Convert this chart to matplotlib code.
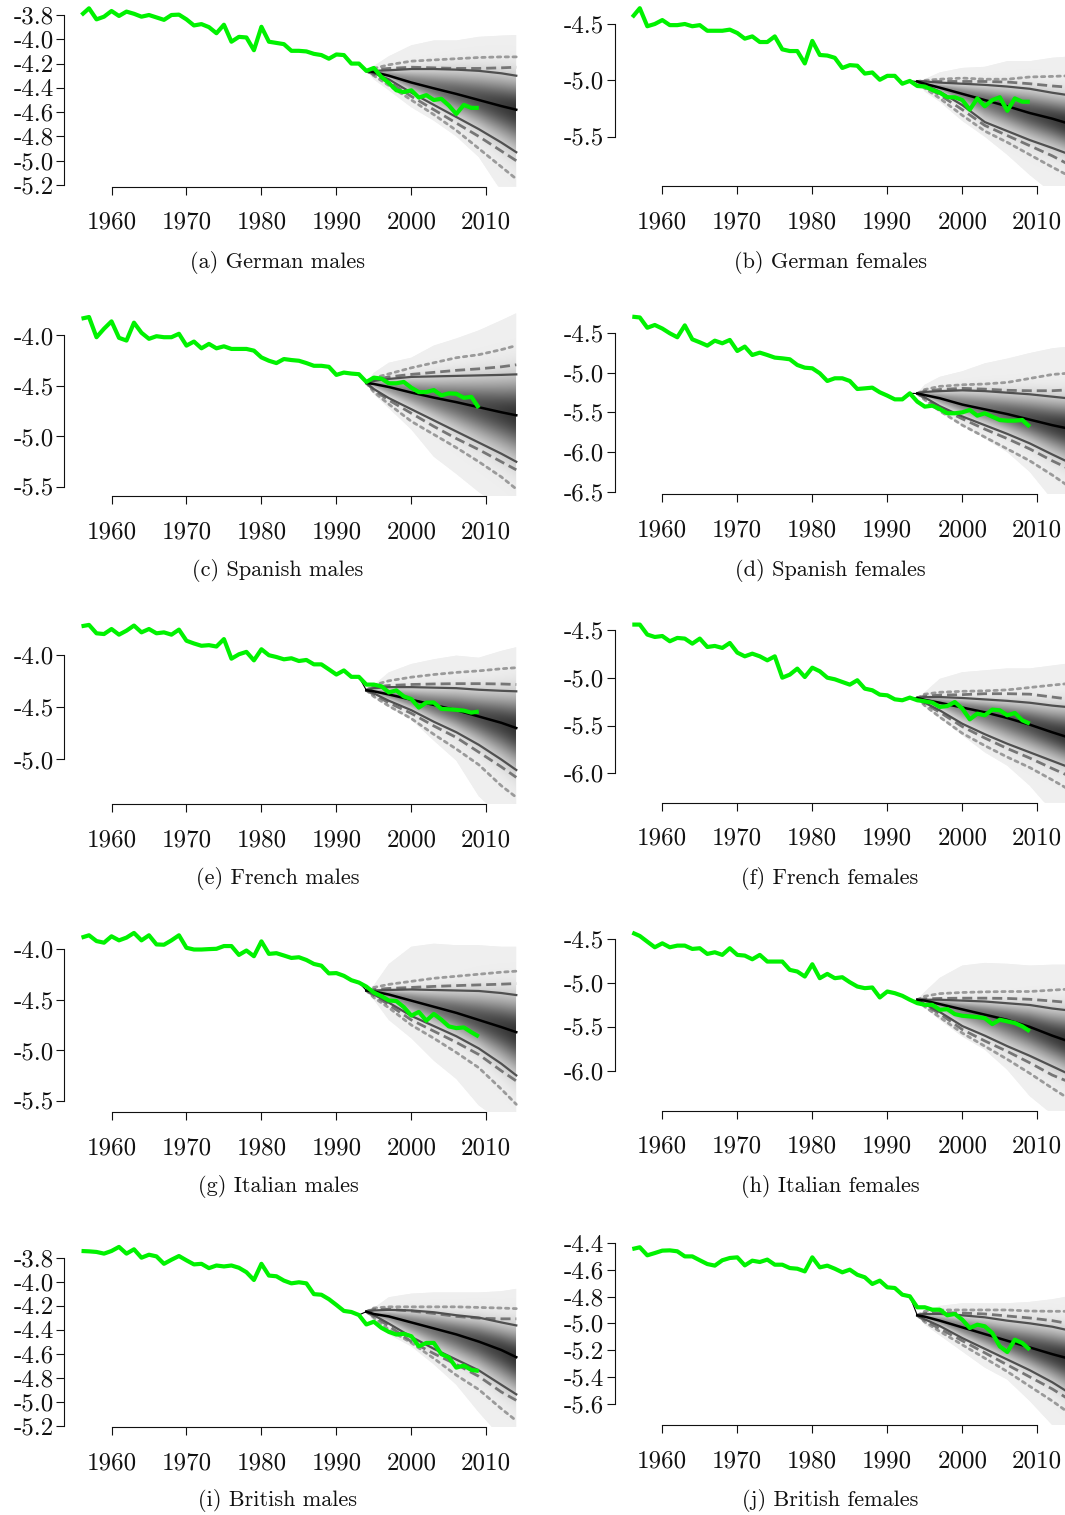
import numpy as np
import matplotlib
matplotlib.use("Agg")
import matplotlib.pyplot as plt
from matplotlib.patches import Polygon

plt.rcParams['font.family'] = ['cmr10', 'DejaVu Serif']
plt.rcParams['axes.unicode_minus'] = False

OBS_YEARS = list(range(1956, 2010))
FC_YEARS = [1994, 1995, 1997, 2000, 2003, 2006, 2009, 2012, 2014]

# ---------------- (a) German males ----------------
de_m_obs = [-3.80, -3.745, -3.836, -3.814, -3.767, -3.808, -3.772, -3.79, -3.814, -3.80,
            -3.82, -3.84, -3.80, -3.797, -3.836, -3.886, -3.875, -3.90, -3.95, -3.88,
            -4.02, -3.98, -3.985, -4.09, -3.897, -4.02, -4.03, -4.04, -4.095, -4.095,
            -4.10, -4.12, -4.13, -4.16, -4.125, -4.13, -4.20, -4.20, -4.26, -4.236,
            -4.31, -4.36, -4.42, -4.435, -4.42, -4.48, -4.46, -4.50, -4.49, -4.545,
            -4.615, -4.54, -4.565, -4.565]
de_m_med = [-4.26, -4.27, -4.30, -4.356, -4.404, -4.45, -4.50, -4.55, -4.58]
de_m_hi1 = [-4.26, -4.26, -4.255, -4.245, -4.245, -4.25, -4.26, -4.28, -4.30]
de_m_lo1 = [-4.26, -4.28, -4.33, -4.44, -4.54, -4.64, -4.74, -4.85, -4.93]
de_m_hi2 = [-4.26, -4.25, -4.24, -4.23, -4.235, -4.24, -4.24, -4.235, -4.23]
de_m_lo2 = [-4.26, -4.29, -4.35, -4.47, -4.58, -4.69, -4.80, -4.92, -5.00]
de_m_hi3 = [-4.26, -4.24, -4.21, -4.18, -4.17, -4.16, -4.15, -4.145, -4.145]
de_m_lo3 = [-4.26, -4.30, -4.38, -4.50, -4.62, -4.75, -4.90, -5.05, -5.15]
de_m_ehi = [-4.26, -4.22, -4.14, -4.05, -4.01, -4.01, -3.98, -3.97, -3.965]
de_m_elo = [-4.26, -4.33, -4.42, -4.56, -4.67, -4.80, -4.97, -5.25, -5.30]

# ---------------- (b) German females ----------------
de_f_obs = [-4.44, -4.36, -4.52, -4.50, -4.465, -4.51, -4.51, -4.50, -4.52, -4.51,
            -4.56, -4.56, -4.56, -4.55, -4.58, -4.63, -4.61, -4.66, -4.66, -4.61,
            -4.725, -4.74, -4.74, -4.85, -4.65, -4.775, -4.78, -4.80, -4.89, -4.865,
            -4.87, -4.94, -4.93, -4.995, -4.96, -4.96, -5.03, -5.005, -5.05, -5.055,
            -5.085, -5.11, -5.15, -5.15, -5.175, -5.26, -5.16, -5.23, -5.175, -5.15,
            -5.27, -5.16, -5.19, -5.19]
de_f_med = [-5.01, -5.03, -5.065, -5.12, -5.175, -5.23, -5.29, -5.34, -5.38]
de_f_hi1 = [-5.01, -5.01, -5.02, -5.03, -5.04, -5.055, -5.075, -5.11, -5.13]
de_f_lo1 = [-5.01, -5.04, -5.10, -5.22, -5.37, -5.45, -5.53, -5.60, -5.65]
de_f_hi2 = [-5.01, -5.01, -5.01, -5.01, -5.01, -5.015, -5.03, -5.05, -5.06]
de_f_lo2 = [-5.01, -5.05, -5.13, -5.26, -5.40, -5.49, -5.58, -5.67, -5.74]
de_f_hi3 = [-5.01, -5.00, -4.99, -4.98, -4.99, -4.99, -4.97, -4.965, -4.96]
de_f_lo3 = [-5.01, -5.07, -5.16, -5.31, -5.45, -5.55, -5.66, -5.77, -5.84]
de_f_ehi = [-5.01, -4.99, -4.93, -4.89, -4.88, -4.83, -4.83, -4.80, -4.79]
de_f_elo = [-5.01, -5.10, -5.19, -5.36, -5.50, -5.66, -5.84, -6.00, -6.00]

# ---------------- (c) Spanish males ----------------
es_m_obs = [-3.833, -3.817, -4.017, -3.933, -3.86, -4.023, -4.05, -3.873, -3.973, -4.033,
            -4.007, -4.017, -4.017, -3.983, -4.10, -4.06, -4.127, -4.083, -4.127, -4.107,
            -4.133, -4.133, -4.133, -4.15, -4.217, -4.25, -4.273, -4.233, -4.243, -4.25,
            -4.273, -4.30, -4.30, -4.31, -4.39, -4.367, -4.377, -4.383, -4.46, -4.417,
            -4.427, -4.473, -4.473, -4.46, -4.517, -4.56, -4.56, -4.54, -4.593, -4.573,
            -4.577, -4.617, -4.607, -4.717]
es_m_med = [-4.47, -4.48, -4.51, -4.565, -4.615, -4.66, -4.71, -4.76, -4.79]
es_m_hi1 = [-4.47, -4.45, -4.43, -4.41, -4.405, -4.40, -4.395, -4.39, -4.385]
es_m_lo1 = [-4.47, -4.53, -4.62, -4.73, -4.84, -4.95, -5.06, -5.17, -5.25]
es_m_hi2 = [-4.47, -4.44, -4.41, -4.385, -4.365, -4.345, -4.33, -4.31, -4.29]
es_m_lo2 = [-4.47, -4.54, -4.64, -4.77, -4.90, -5.02, -5.13, -5.25, -5.33]
es_m_hi3 = [-4.47, -4.42, -4.38, -4.32, -4.27, -4.22, -4.19, -4.14, -4.10]
es_m_lo3 = [-4.47, -4.56, -4.68, -4.85, -4.98, -5.11, -5.25, -5.40, -5.52]
es_m_ehi = [-4.47, -4.37, -4.27, -4.22, -4.10, -4.03, -3.95, -3.85, -3.78]
es_m_elo = [-4.47, -4.58, -4.72, -4.93, -5.20, -5.37, -5.55, -5.70, -5.75]

# ---------------- (d) Spanish females ----------------
es_f_obs = [-4.29, -4.30, -4.43, -4.395, -4.44, -4.50, -4.55, -4.40, -4.576, -4.614,
            -4.656, -4.593, -4.626, -4.584, -4.723, -4.668, -4.774, -4.744, -4.774, -4.807,
            -4.816, -4.828, -4.90, -4.934, -4.942, -5.005, -5.102, -5.068, -5.068, -5.102,
            -5.203, -5.195, -5.186, -5.245, -5.287, -5.334, -5.334, -5.258, -5.363, -5.426,
            -5.414, -5.456, -5.51, -5.51, -5.498, -5.468, -5.54, -5.51, -5.553, -5.595,
            -5.603, -5.603, -5.595, -5.68]
es_f_med = [-5.26, -5.28, -5.32, -5.40, -5.46, -5.52, -5.59, -5.66, -5.70]
es_f_hi1 = [-5.26, -5.24, -5.23, -5.22, -5.23, -5.25, -5.27, -5.30, -5.32]
es_f_lo1 = [-5.26, -5.31, -5.42, -5.55, -5.66, -5.77, -5.89, -6.03, -6.12]
es_f_hi2 = [-5.26, -5.23, -5.21, -5.195, -5.205, -5.22, -5.225, -5.225, -5.215]
es_f_lo2 = [-5.26, -5.32, -5.44, -5.58, -5.71, -5.83, -5.96, -6.11, -6.20]
es_f_hi3 = [-5.26, -5.21, -5.17, -5.15, -5.14, -5.12, -5.07, -5.02, -5.005]
es_f_lo3 = [-5.26, -5.34, -5.48, -5.66, -5.81, -5.96, -6.11, -6.29, -6.42]
es_f_ehi = [-5.26, -5.15, -5.05, -4.98, -4.88, -4.82, -4.75, -4.69, -4.67]
es_f_elo = [-5.26, -5.36, -5.50, -5.66, -5.83, -6.00, -6.25, -6.60, -6.70]

# ---------------- (e) French males ----------------
fr_m_obs = [-3.73, -3.717, -3.797, -3.804, -3.756, -3.81, -3.772, -3.723, -3.788, -3.756,
            -3.797, -3.788, -3.81, -3.762, -3.868, -3.894, -3.916, -3.91, -3.923, -3.852,
            -4.039, -3.997, -3.974, -4.055, -3.949, -4.006, -4.023, -4.045, -4.035, -4.061,
            -4.051, -4.093, -4.093, -4.141, -4.19, -4.151, -4.212, -4.212, -4.286, -4.286,
            -4.302, -4.36, -4.341, -4.399, -4.424, -4.505, -4.457, -4.457, -4.518, -4.521,
            -4.527, -4.534, -4.553, -4.543]
fr_m_med = [-4.34, -4.35, -4.38, -4.43, -4.48, -4.53, -4.59, -4.65, -4.70]
fr_m_hi1 = [-4.34, -4.32, -4.31, -4.31, -4.315, -4.32, -4.335, -4.345, -4.35]
fr_m_lo1 = [-4.34, -4.37, -4.44, -4.53, -4.64, -4.74, -4.86, -5.00, -5.10]
fr_m_hi2 = [-4.34, -4.31, -4.295, -4.285, -4.28, -4.277, -4.277, -4.28, -4.285]
fr_m_lo2 = [-4.34, -4.38, -4.46, -4.56, -4.68, -4.79, -4.93, -5.07, -5.17]
fr_m_hi3 = [-4.34, -4.29, -4.25, -4.215, -4.19, -4.17, -4.155, -4.135, -4.125]
fr_m_lo3 = [-4.34, -4.40, -4.49, -4.61, -4.76, -4.90, -5.05, -5.25, -5.36]
fr_m_ehi = [-4.34, -4.29, -4.17, -4.09, -4.045, -4.01, -4.03, -3.965, -3.93]
fr_m_elo = [-4.34, -4.40, -4.50, -4.62, -4.82, -5.01, -5.35, -5.55, -5.55]

# ---------------- (f) French females ----------------
fr_f_obs = [-4.44, -4.44, -4.545, -4.57, -4.56, -4.615, -4.58, -4.587, -4.64, -4.587,
            -4.675, -4.664, -4.685, -4.633, -4.734, -4.773, -4.745, -4.773, -4.815, -4.773,
            -4.997, -4.965, -4.902, -4.99, -4.892, -4.93, -4.997, -5.014, -5.042, -5.07,
            -5.024, -5.112, -5.129, -5.175, -5.182, -5.224, -5.234, -5.206, -5.234, -5.245,
            -5.259, -5.304, -5.294, -5.252, -5.322, -5.434, -5.374, -5.392, -5.332, -5.339,
            -5.392, -5.367, -5.444, -5.479]
fr_f_med = [-5.21, -5.23, -5.26, -5.31, -5.36, -5.42, -5.49, -5.57, -5.62]
fr_f_hi1 = [-5.21, -5.20, -5.20, -5.21, -5.225, -5.24, -5.26, -5.29, -5.305]
fr_f_lo1 = [-5.21, -5.26, -5.34, -5.48, -5.59, -5.69, -5.78, -5.87, -5.93]
fr_f_hi2 = [-5.21, -5.19, -5.18, -5.175, -5.165, -5.165, -5.17, -5.20, -5.22]
fr_f_lo2 = [-5.21, -5.27, -5.36, -5.51, -5.63, -5.74, -5.84, -5.95, -6.02]
fr_f_hi3 = [-5.21, -5.17, -5.15, -5.14, -5.135, -5.125, -5.10, -5.075, -5.06]
fr_f_lo3 = [-5.21, -5.29, -5.41, -5.58, -5.71, -5.83, -5.94, -6.07, -6.16]
fr_f_ehi = [-5.21, -5.15, -5.01, -4.94, -4.92, -4.90, -4.90, -4.87, -4.85]
fr_f_elo = [-5.21, -5.30, -5.42, -5.60, -5.78, -5.92, -6.13, -6.40, -6.40]

# ---------------- (g) Italian males ----------------
it_m_obs = [-3.89, -3.867, -3.924, -3.94, -3.877, -3.917, -3.89, -3.844, -3.917, -3.867,
            -3.957, -3.96, -3.917, -3.867, -3.99, -4.007, -4.007, -4.003, -4.00, -3.973,
            -3.973, -4.06, -4.017, -4.073, -3.927, -4.05, -4.043, -4.066, -4.09, -4.083,
            -4.11, -4.149, -4.166, -4.242, -4.239, -4.266, -4.309, -4.332, -4.372, -4.431,
            -4.465, -4.508, -4.514, -4.574, -4.657, -4.621, -4.707, -4.641, -4.697, -4.763,
            -4.78, -4.773, -4.82, -4.863]
it_m_med = [-4.41, -4.42, -4.45, -4.51, -4.57, -4.63, -4.70, -4.77, -4.82]
it_m_hi1 = [-4.41, -4.41, -4.405, -4.40, -4.405, -4.41, -4.415, -4.435, -4.455]
it_m_lo1 = [-4.41, -4.45, -4.53, -4.66, -4.76, -4.86, -4.98, -5.13, -5.245]
it_m_hi2 = [-4.41, -4.40, -4.39, -4.38, -4.37, -4.362, -4.355, -4.348, -4.342]
it_m_lo2 = [-4.41, -4.46, -4.55, -4.70, -4.81, -4.92, -5.04, -5.20, -5.30]
it_m_hi3 = [-4.41, -4.38, -4.35, -4.32, -4.29, -4.27, -4.25, -4.23, -4.22]
it_m_lo3 = [-4.41, -4.48, -4.58, -4.75, -4.88, -5.02, -5.17, -5.38, -5.53]
it_m_ehi = [-4.41, -4.36, -4.15, -3.98, -3.95, -3.965, -3.965, -3.98, -3.98]
it_m_elo = [-4.41, -4.50, -4.70, -4.88, -5.10, -5.28, -5.54, -5.70, -5.70]

# ---------------- (h) Italian females ----------------
it_f_obs = [-4.424, -4.462, -4.527, -4.591, -4.546, -4.591, -4.572, -4.572, -4.61, -4.602,
            -4.667, -4.648, -4.678, -4.602, -4.678, -4.686, -4.728, -4.678, -4.754, -4.754,
            -4.754, -4.849, -4.868, -4.925, -4.785, -4.944, -4.895, -4.944, -4.933, -4.99,
            -5.039, -5.058, -5.05, -5.164, -5.096, -5.115, -5.145, -5.19, -5.229, -5.248,
            -5.248, -5.305, -5.297, -5.354, -5.373, -5.38, -5.388, -5.40, -5.468, -5.418,
            -5.437, -5.456, -5.494, -5.55]
it_f_med = [-5.19, -5.20, -5.24, -5.30, -5.36, -5.42, -5.50, -5.60, -5.66]
it_f_hi1 = [-5.19, -5.19, -5.19, -5.20, -5.21, -5.23, -5.25, -5.29, -5.31]
it_f_lo1 = [-5.19, -5.24, -5.33, -5.49, -5.60, -5.72, -5.83, -5.95, -6.03]
it_f_hi2 = [-5.19, -5.18, -5.175, -5.172, -5.172, -5.175, -5.185, -5.205, -5.22]
it_f_lo2 = [-5.19, -5.25, -5.35, -5.53, -5.66, -5.78, -5.91, -6.05, -6.12]
it_f_hi3 = [-5.19, -5.15, -5.12, -5.107, -5.10, -5.096, -5.096, -5.08, -5.07]
it_f_lo3 = [-5.19, -5.27, -5.39, -5.57, -5.72, -5.87, -6.03, -6.20, -6.31]
it_f_ehi = [-5.19, -5.10, -4.94, -4.80, -4.77, -4.78, -4.80, -4.79, -4.79]
it_f_elo = [-5.19, -5.28, -5.42, -5.61, -5.76, -5.99, -6.29, -6.50, -6.55]

# ---------------- (i) British males ----------------
gb_m_obs = [-3.744, -3.747, -3.752, -3.766, -3.744, -3.71, -3.766, -3.73, -3.80, -3.775,
            -3.789, -3.851, -3.817, -3.786, -3.822, -3.856, -3.851, -3.887, -3.865, -3.873,
            -3.865, -3.884, -3.921, -3.986, -3.851, -3.949, -3.955, -3.991, -4.014, -4.005,
            -4.014, -4.104, -4.109, -4.146, -4.194, -4.244, -4.253, -4.278, -4.357, -4.334,
            -4.385, -4.419, -4.441, -4.435, -4.455, -4.539, -4.511, -4.511, -4.604, -4.632,
            -4.717, -4.70, -4.736, -4.745]
gb_m_med = [-4.25, -4.27, -4.29, -4.34, -4.39, -4.44, -4.50, -4.57, -4.63]
gb_m_hi1 = [-4.25, -4.24, -4.235, -4.24, -4.255, -4.28, -4.30, -4.34, -4.365]
gb_m_lo1 = [-4.25, -4.28, -4.35, -4.46, -4.56, -4.65, -4.74, -4.86, -4.94]
gb_m_hi2 = [-4.25, -4.23, -4.23, -4.245, -4.265, -4.29, -4.305, -4.31, -4.31]
gb_m_lo2 = [-4.25, -4.29, -4.37, -4.50, -4.60, -4.69, -4.79, -4.92, -4.99]
gb_m_hi3 = [-4.25, -4.22, -4.21, -4.21, -4.21, -4.21, -4.215, -4.22, -4.225]
gb_m_lo3 = [-4.25, -4.30, -4.40, -4.51, -4.64, -4.78, -4.90, -5.06, -5.16]
gb_m_ehi = [-4.25, -4.22, -4.13, -4.10, -4.09, -4.09, -4.09, -4.08, -4.06]
gb_m_elo = [-4.25, -4.33, -4.44, -4.54, -4.69, -4.86, -5.09, -5.30, -5.30]

# ---------------- (j) British females ----------------
gb_f_obs = [-4.445, -4.432, -4.492, -4.475, -4.457, -4.455, -4.462, -4.50, -4.50, -4.529,
            -4.557, -4.569, -4.529, -4.512, -4.507, -4.567, -4.532, -4.542, -4.524, -4.562,
            -4.562, -4.587, -4.592, -4.612, -4.507, -4.582, -4.569, -4.592, -4.619, -4.599,
            -4.637, -4.656, -4.706, -4.681, -4.731, -4.736, -4.786, -4.798, -4.88, -4.88,
            -4.898, -4.898, -4.94, -4.93, -4.973, -5.035, -5.01, -5.022, -5.072, -5.172,
            -5.214, -5.122, -5.147, -5.197]
gb_f_med = [-4.94, -4.95, -4.98, -5.03, -5.08, -5.13, -5.18, -5.23, -5.26]
gb_f_hi1 = [-4.94, -4.93, -4.93, -4.94, -4.955, -4.98, -5.00, -5.025, -5.05]
gb_f_lo1 = [-4.94, -4.97, -5.02, -5.11, -5.19, -5.27, -5.35, -5.44, -5.51]
gb_f_hi2 = [-4.94, -4.925, -4.92, -4.923, -4.93, -4.945, -4.96, -4.98, -5.00]
gb_f_lo2 = [-4.94, -4.98, -5.04, -5.13, -5.22, -5.31, -5.40, -5.49, -5.56]
gb_f_hi3 = [-4.94, -4.91, -4.90, -4.90, -4.90, -4.90, -4.908, -4.91, -4.91]
gb_f_lo3 = [-4.94, -4.99, -5.06, -5.16, -5.26, -5.36, -5.47, -5.58, -5.66]
gb_f_ehi = [-4.94, -4.92, -4.87, -4.85, -4.85, -4.85, -4.84, -4.82, -4.80]
gb_f_elo = [-4.94, -5.01, -5.09, -5.21, -5.33, -5.42, -5.58, -5.76, -5.80]

CAPTIONS = ["(a) German males", "(b) German females", "(c) Spanish males",
            "(d) Spanish females", "(e) French males", "(f) French females",
            "(g) Italian males", "(h) Italian females", "(i) British males",
            "(j) British females"]

TICKS = [[-3.8, -4.0, -4.2, -4.4, -4.6, -4.8, -5.0, -5.2],
         [-4.5, -5.0, -5.5],
         [-4.0, -4.5, -5.0, -5.5],
         [-4.5, -5.0, -5.5, -6.0, -6.5],
         [-4.0, -4.5, -5.0],
         [-4.5, -5.0, -5.5, -6.0],
         [-4.0, -4.5, -5.0, -5.5],
         [-4.5, -5.0, -5.5, -6.0],
         [-3.8, -4.0, -4.2, -4.4, -4.6, -4.8, -5.0, -5.2],
         [-4.4, -4.6, -4.8, -5.0, -5.2, -5.4, -5.6]]

SERIES = [
    (de_m_obs, de_m_med, de_m_hi1, de_m_lo1, de_m_hi2, de_m_lo2, de_m_hi3, de_m_lo3, de_m_ehi, de_m_elo),
    (de_f_obs, de_f_med, de_f_hi1, de_f_lo1, de_f_hi2, de_f_lo2, de_f_hi3, de_f_lo3, de_f_ehi, de_f_elo),
    (es_m_obs, es_m_med, es_m_hi1, es_m_lo1, es_m_hi2, es_m_lo2, es_m_hi3, es_m_lo3, es_m_ehi, es_m_elo),
    (es_f_obs, es_f_med, es_f_hi1, es_f_lo1, es_f_hi2, es_f_lo2, es_f_hi3, es_f_lo3, es_f_ehi, es_f_elo),
    (fr_m_obs, fr_m_med, fr_m_hi1, fr_m_lo1, fr_m_hi2, fr_m_lo2, fr_m_hi3, fr_m_lo3, fr_m_ehi, fr_m_elo),
    (fr_f_obs, fr_f_med, fr_f_hi1, fr_f_lo1, fr_f_hi2, fr_f_lo2, fr_f_hi3, fr_f_lo3, fr_f_ehi, fr_f_elo),
    (it_m_obs, it_m_med, it_m_hi1, it_m_lo1, it_m_hi2, it_m_lo2, it_m_hi3, it_m_lo3, it_m_ehi, it_m_elo),
    (it_f_obs, it_f_med, it_f_hi1, it_f_lo1, it_f_hi2, it_f_lo2, it_f_hi3, it_f_lo3, it_f_ehi, it_f_elo),
    (gb_m_obs, gb_m_med, gb_m_hi1, gb_m_lo1, gb_m_hi2, gb_m_lo2, gb_m_hi3, gb_m_lo3, gb_m_ehi, gb_m_elo),
    (gb_f_obs, gb_f_med, gb_f_hi1, gb_f_lo1, gb_f_hi2, gb_f_lo2, gb_f_hi3, gb_f_lo3, gb_f_ehi, gb_f_elo),
]

# ---------------- layout (pixels) ----------------
FW, FH = 1065, 1515
TICK_PIX = [(15, 185), (24, 136.7), (335.5, 487), (333.3, 491.7), (654.6, 759.5),
            (630.3, 773.3), (948.8, 1101.3), (939.3, 1070.7), (1257.7, 1425.5), (1243, 1403.7)]
AXIS_PIX = [186.5, 186, 496, 494.5, 804, 802.5, 1112, 1110.5, 1427, 1425]
CAP_Y = [262, 570, 878, 1186, 1501]
CAP_X = [278, 830]
COL_X = [(111.5, 486.3), (662.3, 1037.3)]
XLIM = (1953.68, 2016.32)

fig = plt.figure(figsize=(FW / 100, FH / 100), dpi=100)

GREEN = '#00f200'
C_SOLID = '#505050'
C_DASH = '#767676'
C_DOT = '#9a9a9a'

for i in range(10):
    col = i % 2
    row = i // 2
    obs, med, hi1, lo1, hi2, lo2, hi3, lo3, ehi, elo = [np.asarray(s, float) for s in SERIES[i]]
    assert len(obs) == len(OBS_YEARS)
    x60, x10 = COL_X[col]
    sx = (x10 - x60) / 50.0
    L = x60 - (1960 - XLIM[0]) * sx
    W = (XLIM[1] - XLIM[0]) * sx
    B = AXIS_PIX[i]
    T = B - 195
    ticks = TICKS[i]
    p1, p2 = TICK_PIX[i]
    s = (ticks[-1] - ticks[0]) / (p2 - p1)
    ylim = (ticks[0] + (B - p1) * s, ticks[0] + (T - p1) * s)

    ax = fig.add_axes([L / FW, 1 - B / FH, W / FW, (B - T) / FH])
    ax.patch.set_visible(False)

    fy = np.asarray(FC_YEARS, float)
    env = Polygon(np.column_stack([np.r_[fy, fy[::-1]], np.r_[ehi, elo[::-1]]]),
                  closed=True, facecolor='#f0f0f0', edgecolor='none', zorder=1)
    ax.add_patch(env)

    # gradient shading of the predictive distribution
    xs = np.linspace(fy[0], fy[-1], 300)
    ys = np.linspace(ylim[0], ylim[1], 500)
    X, Y = np.meshgrid(xs, ys)
    m = np.interp(xs, fy, med)
    u = np.interp(xs, fy, hi1)
    l = np.interp(xs, fy, lo1)
    d = Y - m[None, :]
    half = np.where(d >= 0, (u - m)[None, :], (m - l)[None, :])
    half = np.maximum(half, 1e-4)
    t = np.abs(d) / half
    frac = (xs - fy[0]) / (fy[-1] - fy[0])
    gc = 0.62 - 0.42 * frac
    g = 0.94 - (0.94 - gc[None, :]) * np.exp(-1.6 * t ** 2)
    img = np.dstack([g, g, g])
    im = ax.imshow(img, extent=[xs[0], xs[-1], ys[0], ys[-1]], origin='lower',
                   aspect='auto', interpolation='bilinear', zorder=2)
    im.set_clip_path(env)

    for arr in (hi3, lo3):
        ax.plot(fy, arr, color=C_DOT, lw=2.0, linestyle=(0, (1.2, 1.6)), zorder=3,
                dash_capstyle='round')
    for arr in (hi2, lo2):
        ax.plot(fy, arr, color=C_DASH, lw=2.0, linestyle=(0, (3.6, 1.8)), zorder=3)
    for arr in (hi1, lo1):
        ax.plot(fy, arr, color=C_SOLID, lw=1.6, zorder=3)
    ax.plot(fy, med, color='black', lw=1.8, zorder=4)
    k = OBS_YEARS.index(1993)
    ax.plot([OBS_YEARS[k], fy[0]], [obs[k], med[0]], color='black', lw=0.8, zorder=4)

    ax.plot(OBS_YEARS, obs, color=GREEN, lw=3.0, zorder=5, solid_joinstyle='round',
            solid_capstyle='butt')

    ax.set_xlim(*XLIM)
    ax.set_ylim(*ylim)
    for sp in ('top', 'right'):
        ax.spines[sp].set_visible(False)
    ax.spines['left'].set_bounds(ticks[-1], ticks[0])
    ax.spines['bottom'].set_bounds(1960, 2010)
    for sp in ('left', 'bottom'):
        ax.spines[sp].set_linewidth(0.8)
        ax.spines[sp].set_color('#111111')
    ax.set_xticks([1960, 1970, 1980, 1990, 2000, 2010],
                  labels=['1960', '1970', '1980', '1990', '2000', '2010'])
    ax.set_yticks(ticks, labels=['%.1f' % v for v in ticks])
    ax.tick_params(axis='both', direction='out', length=6, width=0.8, color='#111111',
                   labelsize=18, labelcolor='#111111')
    ax.tick_params(axis='x', pad=12)
    ax.tick_params(axis='y', pad=1.5)

    fig.text(CAP_X[col] / FW, 1 - CAP_Y[row] / FH, CAPTIONS[i], ha='center', va='center',
             fontsize=16, color='#111111')

fig.savefig('out.png', dpi=100)
